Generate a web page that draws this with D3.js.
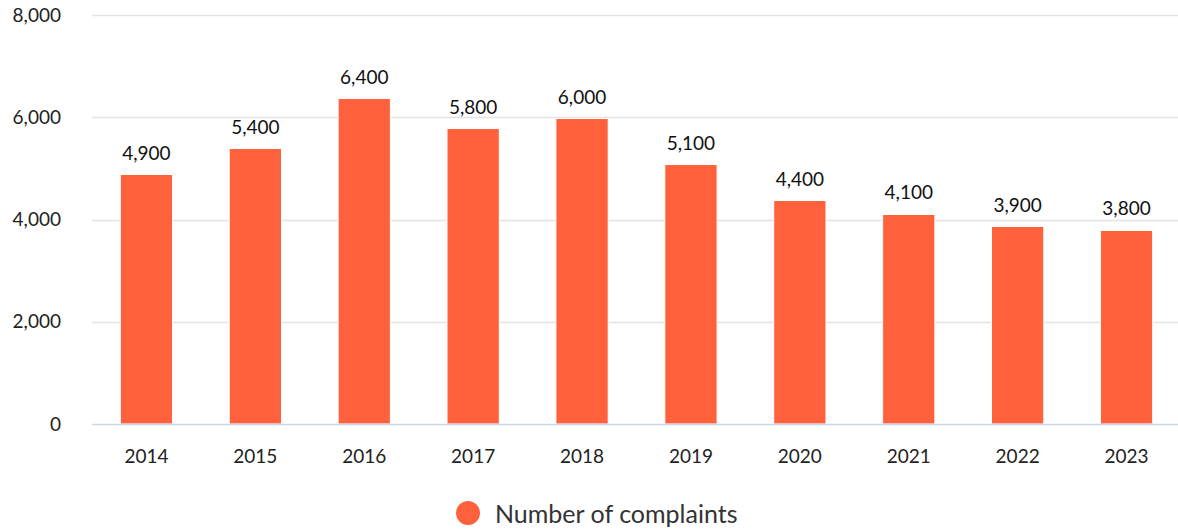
<!DOCTYPE html>
<html><head><meta charset="utf-8">
<script src="https://cdn.jsdelivr.net/npm/d3@7"></script>
<style>body{margin:0;background:#fff;}svg{display:block;font-family:Lato, "Noto Sans", sans-serif;}</style>
</head><body><svg id="c" width="1178" height="531"></svg>
<script>
const categories = ["2014","2015","2016","2017","2018","2019","2020","2021","2022","2023"];
// bar heights; labels show them rounded to hundreds
const complaints = [4880,5388,6366,5779,5975,5075,4371,4098,3863,3785];
const yTicks = [0,2000,4000,6000,8000];
const seriesName = "Number of complaints";
const color = "#fe613b";

const svg = d3.select("#c");
const x = d3.scaleBand().domain(categories).range([92,1181]).paddingInner(0.52).paddingOuter(0.26);
const y = d3.scaleLinear().domain([0,8000]).range([424,15]);
const fmt = d3.format(",");
const labelFmt = d => fmt(Math.round(d/100)*100);

// grid
svg.append("g").selectAll("line").data(yTicks.filter(d=>d>0)).join("line")
  .attr("x1",92).attr("x2",1178).attr("y1",d=>Math.round(y(d))+0.5).attr("y2",d=>Math.round(y(d))+0.5)
  .attr("stroke","#e3e3e3").attr("stroke-width",1.5);
// y labels
const ya = svg.append("g").attr("transform","translate(61,0)")
  .call(d3.axisLeft(y).tickValues(yTicks).tickSize(0).tickPadding(0).tickFormat(fmt));
ya.select(".domain").remove();
ya.selectAll("text").attr("font-size",19).attr("fill","#222").attr("font-family","Lato, sans-serif");

// bars
svg.append("g").selectAll("rect").data(complaints).join("rect")
  .attr("x",(d,i)=>x(categories[i])).attr("width",x.bandwidth())
  .attr("y",d=>y(d)).attr("height",d=>y(0)-y(d))
  .attr("fill",color).attr("stroke","#fff").attr("stroke-width",1);

// axis line
svg.append("line").attr("x1",92).attr("x2",1178).attr("y1",y(0)+0.5).attr("y2",y(0)+0.5)
  .attr("stroke","#ccd6eb").attr("stroke-width",1.5);

// x labels
const xa = svg.append("g").attr("transform",`translate(0,${y(0)})`)
  .call(d3.axisBottom(x).tickSize(0).tickPadding(26));
xa.select(".domain").remove();
xa.selectAll("text").attr("font-size",19).attr("fill","#222").attr("font-family","Lato, sans-serif");

// data labels
svg.append("g").selectAll("text").data(complaints).join("text")
  .attr("x",(d,i)=>x(categories[i])+x.bandwidth()/2).attr("y",d=>y(d)-15)
  .attr("text-anchor","middle").attr("font-size",19).attr("fill","#111")
  .text(d=>labelFmt(d));

// legend
const lg = svg.append("g");
lg.append("circle").attr("cx",468).attr("cy",513).attr("r",12).attr("fill",color);
lg.append("text").attr("x",495).attr("y",523).attr("font-size",25).attr("fill","#333").text(seriesName);
</script></body></html>
